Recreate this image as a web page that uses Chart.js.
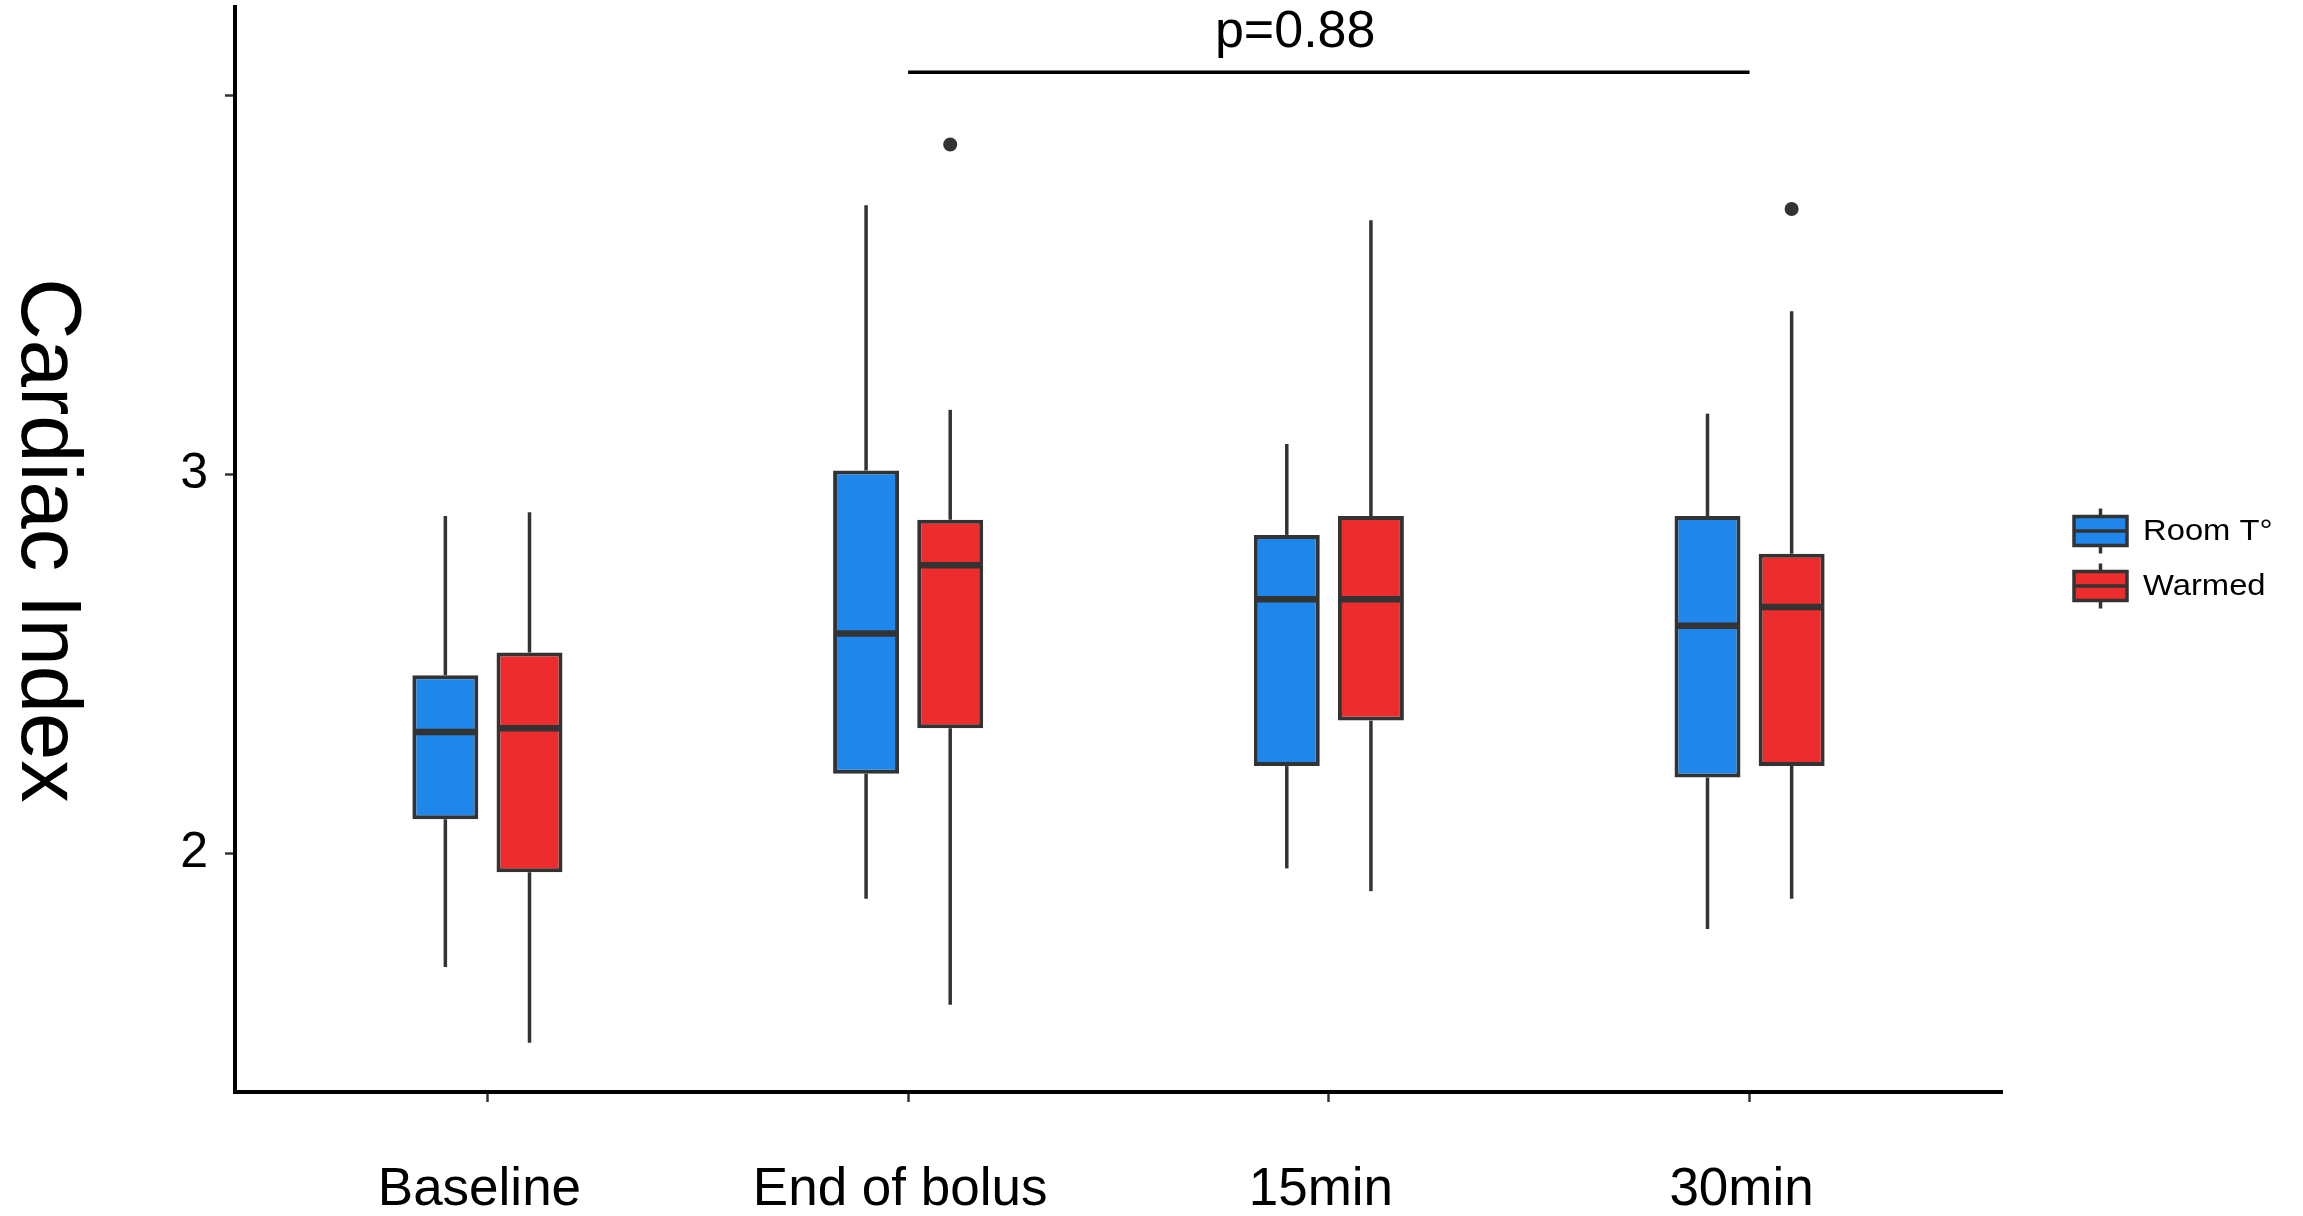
<!DOCTYPE html>
<html lang="en">
<head>
<meta charset="UTF-8">
<title>Cardiac Index</title>
<script src="https://cdn.jsdelivr.net/npm/chart.js"></script>
<style>
  html, body { margin: 0; padding: 0; background: #fff; }
  #wrap { width: 2303px; height: 1216px; }
</style>
</head>
<body>
<div id="wrap"><canvas id="myChart"></canvas></div>
<script>
  // time points on the x axis
  const categories = ['Baseline', 'End of bolus', '15min', '30min'];

  // Room T° group (whisker ends, quartiles, median)
  const roomMin    = [1.70, 1.88, 1.96, 1.80];
  const roomQ1     = [2.09, 2.21, 2.23, 2.20];
  const roomMedian = [2.32, 2.58, 2.67, 2.60];
  const roomQ3     = [2.47, 3.01, 2.84, 2.89];
  const roomMax    = [2.89, 3.71, 3.08, 3.16];
  const roomOutliers = [[], [], [], []];

  // Warmed group
  const warmedMin    = [1.50, 1.60, 1.90, 1.88];
  const warmedQ1     = [1.95, 2.33, 2.35, 2.23];
  const warmedMedian = [2.33, 2.76, 2.67, 2.65];
  const warmedQ3     = [2.53, 2.88, 2.89, 2.79];
  const warmedMax    = [2.90, 3.17, 3.67, 3.43];
  const warmedOutliers = [[], [3.87], [], [3.70]];

  // y axis ticks (top tick has no label in the original)
  const yTicks = [2, 3, 4];
  const yTickLabels = ['2', '3', ''];

  // significance bracket
  const pText = 'p=0.88';
  const pFrom = 1, pTo = 3, pLineY = 4.061, pLabelX = 1.92;

  const FONT = "'Liberation Sans', Arial, sans-serif";
  const INK = '#333333';

  const series = [
    { label: 'Room T°', color: '#1f86eb', min: roomMin, q1: roomQ1, med: roomMedian, q3: roomQ3, max: roomMax, out: roomOutliers, dodge: -0.1 },
    { label: 'Warmed',  color: '#ec2c2d', min: warmedMin, q1: warmedQ1, med: warmedMedian, q3: warmedQ3, max: warmedMax, out: warmedOutliers, dodge: 0.1 }
  ];

  // boxes = floating bars from Q1 to Q3
  const boxSets = series.map(s => ({
    type: 'bar',
    label: s.label,
    data: categories.map((c, i) => ({ x: i, y: [s.q1[i], s.q3[i]] })),
    backgroundColor: s.color,
    borderColor: INK,
    borderWidth: 4,
    borderSkipped: false,
    categoryPercentage: 0.4,
    barPercentage: 0.784
  }));

  // outlier points, dodged like the boxes
  const outlierSets = series.map(s => ({
    type: 'scatter',
    label: s.label + ' outliers',
    data: s.out.flatMap((vals, i) => vals.map(v => ({ x: i + s.dodge, y: v }))),
    pointRadius: 7,
    pointBackgroundColor: INK,
    pointBorderWidth: 0
  }));

  function line(ctx, x1, y1, x2, y2, w, color) {
    ctx.save();
    ctx.strokeStyle = color;
    ctx.lineWidth = w;
    ctx.beginPath();
    ctx.moveTo(x1, y1);
    ctx.lineTo(x2, y2);
    ctx.stroke();
    ctx.restore();
  }

  const boxExtras = {
    id: 'boxExtras',
    // whiskers go behind the boxes
    beforeDatasetsDraw(chart) {
      const ctx = chart.ctx, y = chart.scales.y;
      series.forEach((s, k) => {
        chart.getDatasetMeta(k).data.forEach((el, i) => {
          const x = el.x;
          line(ctx, x, y.getPixelForValue(s.max[i]), x, y.getPixelForValue(s.q3[i]), 3.5, INK);
          line(ctx, x, y.getPixelForValue(s.q1[i]), x, y.getPixelForValue(s.min[i]), 3.5, INK);
        });
      });
    },
    // medians on top of the boxes
    afterDatasetsDraw(chart) {
      const ctx = chart.ctx, y = chart.scales.y;
      series.forEach((s, k) => {
        chart.getDatasetMeta(k).data.forEach((el, i) => {
          const py = y.getPixelForValue(s.med[i]);
          line(ctx, el.x - el.width / 2 + 1, py, el.x + el.width / 2 - 1, py, 6.5, INK);
        });
      });
    },
    afterDraw(chart) {
      const ctx = chart.ctx, area = chart.chartArea;
      const xs = chart.scales.x, ys = chart.scales.y;

      // y axis title, reading top to bottom
      ctx.save();
      ctx.translate(22, (area.top + area.bottom) / 2 - 9);
      ctx.rotate(Math.PI / 2);
      ctx.font = '85px ' + FONT;
      ctx.fillStyle = '#000';
      ctx.textAlign = 'center';
      ctx.textBaseline = 'alphabetic';
      ctx.fillText('Cardiac Index', 0, 0);
      ctx.restore();

      // p-value bracket
      const ly = ys.getPixelForValue(pLineY);
      line(ctx, xs.getPixelForValue(pFrom), ly, xs.getPixelForValue(pTo), ly, 3.5, '#000');
      ctx.save();
      ctx.font = '52px ' + FONT;
      ctx.fillStyle = '#000';
      ctx.textAlign = 'center';
      ctx.textBaseline = 'alphabetic';
      ctx.fillText(pText, xs.getPixelForValue(pLabelX), ly - 25);
      ctx.restore();

      // legend
      const cy = (area.top + area.bottom) / 2 + 9;
      const gx = area.right + 72, gw = 53, bh = 29, wh = 8, step = 55;
      series.forEach((s, k) => {
        const my = cy - step / 2 + k * step;
        const mx = gx + gw / 2;
        line(ctx, mx, my - bh / 2 - wh, mx, my + bh / 2 + wh, 3.5, INK);
        ctx.save();
        ctx.fillStyle = s.color;
        ctx.fillRect(gx, my - bh / 2, gw, bh);
        ctx.strokeStyle = INK;
        ctx.lineWidth = 3.5;
        ctx.strokeRect(gx, my - bh / 2, gw, bh);
        ctx.restore();
        line(ctx, gx, my, gx + gw, my, 3.5, INK);
        ctx.save();
        ctx.translate(gx + gw + 16, my + 1);
        ctx.scale(1.13, 1);
        ctx.font = '29px ' + FONT;
        ctx.fillStyle = '#000';
        ctx.textAlign = 'left';
        ctx.textBaseline = 'middle';
        ctx.fillText(s.label, 0, 0);
        ctx.restore();
      });
    }
  };

  const ctx = document.getElementById('myChart').getContext('2d');
  new Chart(ctx, {
    type: 'bar',
    data: { datasets: [...boxSets, ...outlierSets] },
    options: {
      responsive: true,
      maintainAspectRatio: false,
      animation: false,
      layout: { padding: { left: 0, top: 7, right: 301, bottom: 0 } },
      plugins: { legend: { display: false }, tooltip: { enabled: false } },
      scales: {
        x: {
          type: 'linear',
          min: -0.6,
          max: 3.6,
          offset: false,
          afterBuildTicks: s => { s.ticks = categories.map((c, i) => ({ value: i })); },
          afterFit: s => { s.height = 124; s.paddingLeft = 0; s.paddingRight = 0; },
          grid: { drawOnChartArea: false, drawTicks: true, tickLength: 10, tickWidth: 2.5, tickColor: INK, offset: false },
          border: { display: true, color: '#000', width: 4 },
          ticks: {
            callback: (v, i) => categories[i],
            font: { family: FONT, size: 53 },
            color: '#000',
            padding: 57,
            labelOffset: -8,
            maxRotation: 0,
            autoSkip: false
          }
        },
        y: {
          type: 'linear',
          min: 1.37,
          max: 4.233,
          afterBuildTicks: s => { s.ticks = yTicks.map(v => ({ value: v })); },
          afterFit: s => { s.width = 235; s.paddingTop = 0; s.paddingBottom = 0; },
          grid: { drawOnChartArea: false, drawTicks: true, tickLength: 10, tickWidth: 2.5, tickColor: INK },
          border: { display: true, color: '#000', width: 4 },
          ticks: {
            callback: (v, i) => yTickLabels[i],
            font: { family: FONT, size: 50 },
            color: '#000',
            padding: 17
          }
        }
      }
    },
    plugins: [boxExtras]
  });
</script>
</body>
</html>
